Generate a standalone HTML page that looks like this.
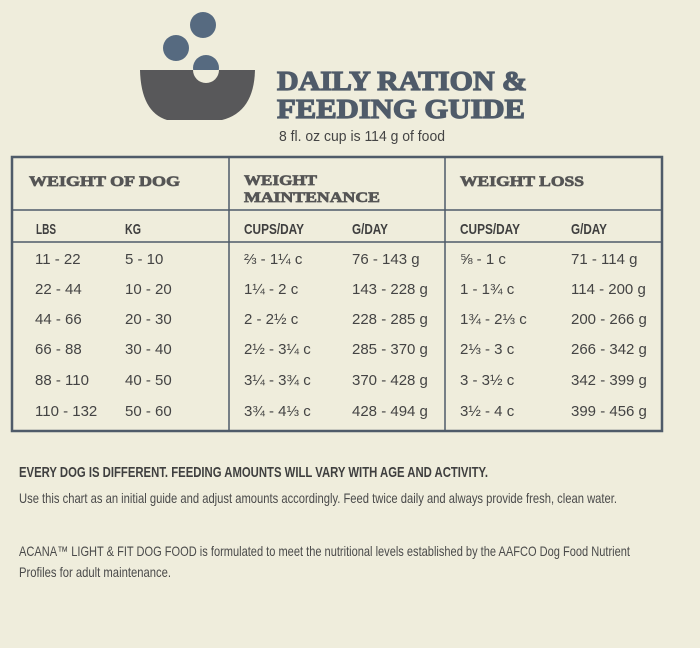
<!DOCTYPE html>
<html><head><meta charset="utf-8"><style>
html,body{margin:0;padding:0;background:#efeddc;}
svg{display:block}
.t{font-family:"Liberation Serif",serif;font-weight:bold;fill:#4f5b69;stroke:#4f5b69;stroke-width:1.2}
.h{font-family:"Liberation Serif",serif;font-weight:bold;fill:#555;font-size:15px;stroke:#555;stroke-width:0.7}
.s{font-family:"Liberation Sans",sans-serif;font-weight:bold;fill:#3f3f3f;font-size:15px}
.d{font-family:"Liberation Sans",sans-serif;fill:#444;font-size:15px}
.f{font-family:"Liberation Sans",sans-serif;fill:#4a4a4a;font-size:14px}
</style></head><body>
<svg width="700" height="648" viewBox="0 0 700 648" xmlns="http://www.w3.org/2000/svg">
<rect width="700" height="648" fill="#efeddc"/>
<circle cx="203" cy="25" r="13" fill="#566a80"/>
<circle cx="176" cy="48" r="13" fill="#566a80"/>
<circle cx="206" cy="68" r="13" fill="#566a80"/>
<path d="M140 70 L255 70 Q254 112 222 120 L167 120 Q141 112 140 70 Z" fill="#58585a"/>
<path d="M193 70 A13 13 0 0 0 219 70 Z" fill="#efeddc"/>
<text class="t" x="277" y="90" font-size="27" textLength="250" lengthAdjust="spacingAndGlyphs">DAILY RATION &amp;</text>
<text class="t" x="277" y="118" font-size="27" textLength="248" lengthAdjust="spacingAndGlyphs">FEEDING GUIDE</text>
<text class="d" x="279" y="141" font-size="16" textLength="166" lengthAdjust="spacingAndGlyphs" fill="#3a3a3a">8 fl. oz cup is 114 g of food</text>
<g stroke="#4f5b69" fill="none">
<rect x="12" y="157" width="650" height="274" stroke-width="2.5"/>
<line x1="229" y1="157" x2="229" y2="431" stroke-width="1.5"/>
<line x1="445" y1="157" x2="445" y2="431" stroke-width="1.5"/>
<line x1="12" y1="210" x2="662" y2="210" stroke-width="1.5"/>
<line x1="12" y1="242" x2="662" y2="242" stroke-width="1.5"/>
</g>
<text class="h" x="29" y="186" textLength="151" lengthAdjust="spacingAndGlyphs">WEIGHT OF DOG</text>
<text class="h" x="244" y="185" textLength="73" lengthAdjust="spacingAndGlyphs">WEIGHT</text>
<text class="h" x="244" y="202" textLength="136" lengthAdjust="spacingAndGlyphs">MAINTENANCE</text>
<text class="h" x="460" y="186" textLength="124" lengthAdjust="spacingAndGlyphs">WEIGHT LOSS</text>
<text class="s" x="36" y="234" textLength="20" lengthAdjust="spacingAndGlyphs">LBS</text>
<text class="s" x="125" y="234" textLength="16" lengthAdjust="spacingAndGlyphs">KG</text>
<text class="s" x="244" y="234" textLength="60" lengthAdjust="spacingAndGlyphs">CUPS/DAY</text>
<text class="s" x="352" y="234" textLength="36" lengthAdjust="spacingAndGlyphs">G/DAY</text>
<text class="s" x="460" y="234" textLength="60" lengthAdjust="spacingAndGlyphs">CUPS/DAY</text>
<text class="s" x="571" y="234" textLength="36" lengthAdjust="spacingAndGlyphs">G/DAY</text>
<g class="d">
<text x="35" y="264">11 - 22</text><text x="125" y="264">5 - 10</text><text x="244" y="264">⅔ - 1¼ c</text><text x="352" y="264">76 - 143 g</text><text x="460" y="264">⅝ - 1 c</text><text x="571" y="264">71 - 114 g</text>
<text x="35" y="294">22 - 44</text><text x="125" y="294">10 - 20</text><text x="244" y="294">1¼ - 2 c</text><text x="352" y="294">143 - 228 g</text><text x="460" y="294">1 - 1¾ c</text><text x="571" y="294">114 - 200 g</text>
<text x="35" y="324">44 - 66</text><text x="125" y="324">20 - 30</text><text x="244" y="324">2 - 2½ c</text><text x="352" y="324">228 - 285 g</text><text x="460" y="324">1¾ - 2⅓ c</text><text x="571" y="324">200 - 266 g</text>
<text x="35" y="354">66 - 88</text><text x="125" y="354">30 - 40</text><text x="244" y="354">2½ - 3¼ c</text><text x="352" y="354">285 - 370 g</text><text x="460" y="354">2⅓ - 3 c</text><text x="571" y="354">266 - 342 g</text>
<text x="35" y="385">88 - 110</text><text x="125" y="385">40 - 50</text><text x="244" y="385">3¼ - 3¾ c</text><text x="352" y="385">370 - 428 g</text><text x="460" y="385">3 - 3½ c</text><text x="571" y="385">342 - 399 g</text>
<text x="35" y="416">110 - 132</text><text x="125" y="416">50 - 60</text><text x="244" y="416">3¾ - 4⅓ c</text><text x="352" y="416">428 - 494 g</text><text x="460" y="416">3½ - 4 c</text><text x="571" y="416">399 - 456 g</text>
</g>
<text class="s" x="19" y="477" font-size="14" textLength="469" lengthAdjust="spacingAndGlyphs">EVERY DOG IS DIFFERENT. FEEDING AMOUNTS WILL VARY WITH AGE AND ACTIVITY.</text>
<text class="f" x="19" y="503" textLength="598" lengthAdjust="spacingAndGlyphs">Use this chart as an initial guide and adjust amounts accordingly. Feed twice daily and always provide fresh, clean water.</text>
<text class="f" x="19" y="556" textLength="611" lengthAdjust="spacingAndGlyphs">ACANA™ LIGHT &amp; FIT DOG FOOD is formulated to meet the nutritional levels established by the AAFCO Dog Food Nutrient</text>
<text class="f" x="19" y="577" textLength="152" lengthAdjust="spacingAndGlyphs">Profiles for adult maintenance.</text>
</svg>
</body></html>
